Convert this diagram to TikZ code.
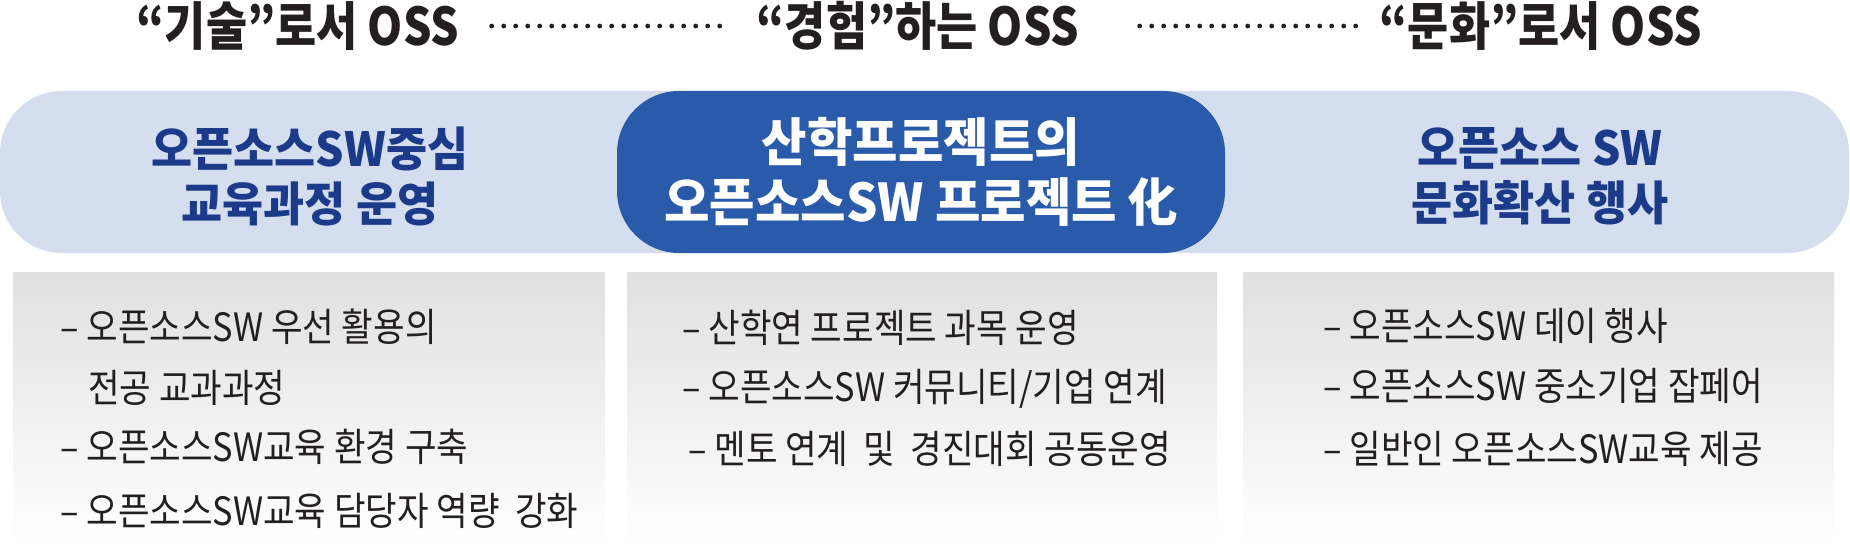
\documentclass[tikz,border=0pt]{standalone}
\usepackage{fontspec}
\newfontfamily\krnarrow[FakeStretch=0.88]{Noto Sans CJK KR}
\newfontfamily\krtitle[FakeStretch=0.86]{Noto Sans CJK KR}
\newfontfamily\krband[FakeStretch=0.95]{Noto Sans CJK KR}
\definecolor{ttifill}{HTML}{D5DEEE}
\definecolor{gangjofill}{HTML}{2A5BAA}
\definecolor{ttiink}{HTML}{1B3A8A}
\definecolor{geomjeong}{HTML}{231F20}
\definecolor{sangjotop}{HTML}{E0E0E0}
\begin{document}
\begin{tikzpicture}[x=0.5pt, y=-0.5pt,
    every node/.style={inner sep=0pt},
    jemok/.style={font=\krtitle\bfseries\fontsize{26pt}{30pt}\selectfont, text=geomjeong},
    jeomseon/.style={line width=2.4pt, line cap=round, dash pattern=on 0pt off 6pt, draw=geomjeong, shorten <=16pt, shorten >=16pt},
    tti/.style={fill=ttifill, rounded corners=31pt},
    ttigeul/.style={font=\krband\bfseries\fontsize{23.5pt}{27.5pt}\selectfont, text=ttiink, align=center},
    gangjo/.style={ttigeul, font=\krband\bfseries\fontsize{26pt}{30pt}\selectfont, text=white, fill=gangjofill, rounded corners=31pt, minimum width=304pt, minimum height=81pt},
    sangja/.style={top color=sangjotop, bottom color=white},
    hangmok/.style={anchor=base west, font=\krnarrow\fontsize{19.5pt}{30pt}\selectfont, text=geomjeong}
  ]
  \useasboundingbox (0,0) rectangle (1850,545);
  % 위쪽 제목과 점선
  \node[jemok] (t1) at (298,26) {“기술”로서 OSS};
  \node[jemok] (t2) at (918,26) {“경험”하는 OSS};
  \node[jemok] (t3) at (1541,26) {“문화”로서 OSS};
  \draw[jeomseon] (t1) -- (t2);
  \draw[jeomseon, shorten <=30pt, shorten >=10pt] (t2) -- (t3);
  % 가운데 띠
  \fill[tti] (0,91) rectangle (1849,253);
  \node[gangjo] (mid) at (921,172) {산학프로젝트의\\오픈소스SW 프로젝트 化};
  \node[ttigeul] (left) at (310,176) {오픈소스SW중심\\교육과정 운영};
  \node[ttigeul] (right) at (1540,176) {오픈소스 SW\\문화확산 행사};
  % 아래 회색 상자
  \shade[sangja] (13,272) rectangle (605,543);
  \shade[sangja] (627,272) rectangle (1217,543);
  \shade[sangja] (1243,272) rectangle (1834,543);
  \node[hangmok] (a1) at (60,341) {– 오픈소스SW 우선 활용의};
  \node[hangmok] (a2) at (88,402) {전공 교과과정};
  \node[hangmok] (a3) at (60,461) {– 오픈소스SW교육 환경 구축};
  \node[hangmok] (a4) at (60,525) {– 오픈소스SW교육 담당자 역량\ \ 강화};
  \node[hangmok] (b1) at (682,342) {– 산학연 프로젝트 과목 운영};
  \node[hangmok] (b2) at (682,401) {– 오픈소스SW 커뮤니티/기업 연계};
  \node[hangmok] (b3) at (688,463) {– 멘토 연계\ \ 및\ \ 경진대회 공동운영};
  \node[hangmok] (c1) at (1323,340) {– 오픈소스SW 데이 행사};
  \node[hangmok] (c2) at (1323,400) {– 오픈소스SW 중소기업 잡페어};
  \node[hangmok] (c3) at (1323,463) {– 일반인 오픈소스SW교육 제공};
\end{tikzpicture}
\end{document}
